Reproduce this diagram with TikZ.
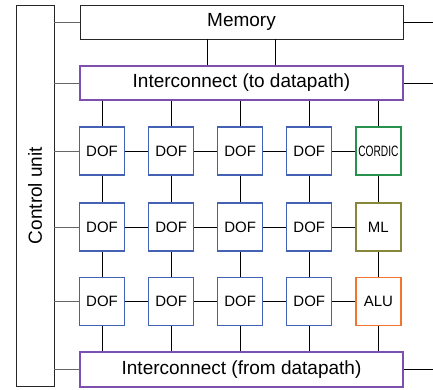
\documentclass[tikz,border=0pt]{standalone}
\usepackage{fontspec}
\setmainfont{Liberation Sans}
\usepackage{tikz}

\definecolor{dofblue}{RGB}{68,98,180}
\definecolor{cordicgreen}{RGB}{40,145,75}
\definecolor{mlolive}{RGB}{135,135,60}
\definecolor{aluorange}{RGB}{240,118,48}
\definecolor{icpurple}{RGB}{125,80,175}

\begin{document}
\begin{tikzpicture}[x=1pt,y=-1pt]
	\tikzstyle{bigbox}=[rectangle,draw=black!85,line width=0.9pt,minimum width=323pt,minimum height=34pt,inner sep=0pt,font=\fontsize{19}{19}\selectfont]
	\tikzstyle{icbox}=[bigbox,draw=icpurple,line width=1.2pt]
	\tikzstyle{unit}=[rectangle,draw=dofblue,line width=1.2pt,minimum width=45pt,minimum height=48pt,inner sep=0pt,font=\fontsize{15}{15}\selectfont]
	\tikzstyle{wire}=[black,line width=0.9pt]
	\tikzstyle{ctrl}=[black!60,line width=0.9pt]
	\useasboundingbox (0,0) rectangle (433,389);
	\node[rectangle,draw=black!85,line width=0.9pt,minimum width=38pt,minimum height=381pt,inner sep=0pt,font=\fontsize{19}{19}\selectfont] (cu) at (35,195.5) {\rotatebox{90}{Control unit}};
	\node[bigbox] (mem) at (241.5,22) {Memory};
	\node[icbox] (ic1) at (241.5,83) {Interconnect (to datapath)};
	\node[icbox,minimum height=35pt] (ic2) at (241.5,369.5) {Interconnect (from datapath)};
	\coordinate (edge) at (433,0);
	\node[unit] (d11) at (102,151) {DOF};
	\node[unit] (d12) at (171.1,151) {DOF};
	\node[unit] (d13) at (240.2,151) {DOF};
	\node[unit] (d14) at (309.3,151) {DOF};
	\node[unit,draw=cordicgreen] (cordic) at (378.4,151) {\scalebox{0.68}[1]{CORDIC}};
	\node[unit] (d21) at (102,227) {DOF};
	\node[unit] (d22) at (171.1,227) {DOF};
	\node[unit] (d23) at (240.2,227) {DOF};
	\node[unit] (d24) at (309.3,227) {DOF};
	\node[unit,draw=mlolive] (ml) at (378.4,227) {ML};
	\node[unit] (d31) at (102,301.5) {DOF};
	\node[unit] (d32) at (171.1,301.5) {DOF};
	\node[unit] (d33) at (240.2,301.5) {DOF};
	\node[unit] (d34) at (309.3,301.5) {DOF};
	\node[unit,draw=aluorange] (alu) at (378.4,301.5) {ALU};
	% memory to interconnect
	\draw[wire] ([xshift=-34pt]mem.south) -- ([xshift=-34pt]mem.south |- ic1.north);
	\draw[wire] ([xshift=34pt]mem.south) -- ([xshift=34pt]mem.south |- ic1.north);
	% control unit
	\draw[ctrl] (mem.west -| cu.east) -- (mem.west);
	\draw[ctrl] (ic1.west -| cu.east) -- (ic1.west);
	\draw[ctrl] (d11.west -| cu.east) -- (d11.west);
	\draw[ctrl] (d21.west -| cu.east) -- (d21.west);
	\draw[ctrl] (d31.west -| cu.east) -- (d31.west);
	\draw[ctrl] (ic2.west -| cu.east) -- (ic2.west);
	% off to the right
	\draw[wire] (mem.east) -- (mem.east -| edge);
	\draw[wire] (ic1.east) -- (ic1.east -| edge);
	\draw[wire] (ic2.east) -- (ic2.east -| edge);
	% rows
	\draw[wire] (d11) -- (d12);
	\draw[wire] (d12) -- (d13);
	\draw[wire] (d13) -- (d14);
	\draw[wire] (d14) -- (cordic);
	\draw[wire] (d21) -- (d22);
	\draw[wire] (d22) -- (d23);
	\draw[wire] (d23) -- (d24);
	\draw[wire] (d24) -- (ml);
	\draw[wire] (d31) -- (d32);
	\draw[wire] (d32) -- (d33);
	\draw[wire] (d33) -- (d34);
	\draw[wire] (d34) -- (alu);
	% columns
	\draw[wire] (ic1.south -| d11) -- (d11);
	\draw[wire] (ic1.south -| d12) -- (d12);
	\draw[wire] (ic1.south -| d13) -- (d13);
	\draw[wire] (ic1.south -| d14) -- (d14);
	\draw[wire] (ic1.south -| cordic) -- (cordic);
	\draw[wire] (d11) -- (d21);
	\draw[wire] (d12) -- (d22);
	\draw[wire] (d13) -- (d23);
	\draw[wire] (d14) -- (d24);
	\draw[wire] (cordic) -- (ml);
	\draw[wire] (d21) -- (d31);
	\draw[wire] (d22) -- (d32);
	\draw[wire] (d23) -- (d33);
	\draw[wire] (d24) -- (d34);
	\draw[wire] (ml) -- (alu);
	\draw[wire] (d31) -- (ic2.north -| d31);
	\draw[wire] (d32) -- (ic2.north -| d32);
	\draw[wire] (d33) -- (ic2.north -| d33);
	\draw[wire] (d34) -- (ic2.north -| d34);
	\draw[wire] (alu) -- (ic2.north -| alu);
\end{tikzpicture}
\end{document}
